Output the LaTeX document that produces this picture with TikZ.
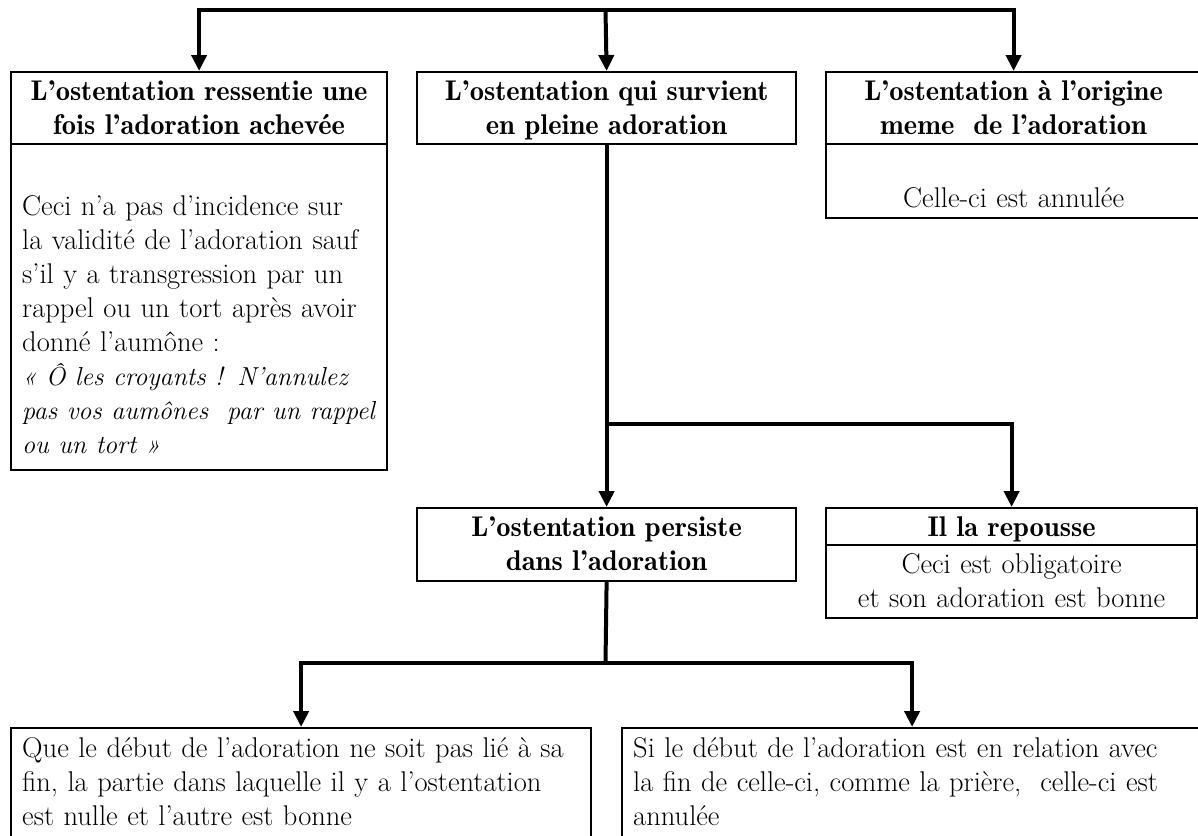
\documentclass[tikz,border=0pt]{standalone}
\usetikzlibrary{arrows.meta}
\begin{document}
\begin{tikzpicture}[x=1pt,y=-1pt,
  box/.style={draw, line width=2.2pt, rectangle, inner sep=0pt, anchor=north west},
  conn/.style={line width=4pt},
  arr/.style={line width=4pt, -{Triangle[length=16pt,width=15pt]}},
  txt/.style={inner sep=0pt, font=\fontsize{28.5}{34}\selectfont},
  btxt/.style={inner sep=0pt, font=\fontsize{28.5}{34}\selectfont\fontseries{b}\selectfont},
  itx/.style={},
]
\newcommand{\quoteline}[1]{{\fontsize{26}{34}\selectfont\itshape #1}}
\useasboundingbox (0,0) rectangle (1198,835);
\clip (0,0) rectangle (1198,835);

% boxes, first row
\node[box, minimum width=376pt, minimum height=72pt]  (h1) at (10,71) {};
\node[box, minimum width=376pt, minimum height=326pt] (b1) at (10,143) {};
\node[box, minimum width=379pt, minimum height=72pt]  (h2) at (416,71) {};
\node[box, minimum width=375pt, minimum height=72pt]  (h3) at (825,71) {};
\node[box, minimum width=375pt, minimum height=74pt]  (b3) at (825,143) {};
% second row
\node[box, minimum width=379pt, minimum height=73pt]  (h4) at (416,507) {};
\node[box, minimum width=371pt, minimum height=37pt]  (h5) at (825,507) {};
\node[box, minimum width=371pt, minimum height=73pt]  (b5) at (825,544) {};
% third row
\node[box, minimum width=580pt, minimum height=140pt] (b6) at (10,727) {};
\node[box, minimum width=580pt, minimum height=140pt] (b7) at (621,727) {};

% texts
\node[btxt, anchor=base, text width=370pt, align=center] (t1) at (h1.north |- 0,100)
  {L’ostentation ressentie une\\fois l’adoration achevée};
\node[txt, anchor=base west, text width=420pt, align=left] (t1b) at (22,215)
  {Ceci n’a pas d’incidence sur\\la validité de l’adoration sauf\\s’il y a transgression par un\\rappel ou un tort après avoir\\donné l’aumône :\\\quoteline{« Ô les croyants ! N’annulez}\\\quoteline{pas vos aumônes\ \ par un rappel}\\\quoteline{ou un tort »}};
\node[btxt, anchor=base, text width=370pt, align=center] (t2) at (h2.north |- 0,100)
  {L’ostentation qui survient\\en pleine adoration};
\node[btxt, anchor=base, text width=370pt, align=center] (t3) at (h3.north |- 0,100)
  {L’ostentation à l’origine\\meme\ \ de l’adoration};
\node[txt, anchor=base, text width=370pt, align=center] (t3b) at (b3.north |- 0,207)
  {Celle-ci est annulée};
\node[btxt, anchor=base, text width=370pt, align=center] (t4) at (h4.north |- 0,536)
  {L’ostentation persiste\\dans l’adoration};
\node[btxt, anchor=base, text width=365pt, align=center] (t5) at (h5.north |- 0,536)
  {Il la repousse};
\node[txt, anchor=base, text width=365pt, align=center] (t5b) at (b5.north |- 0,573)
  {Ceci est obligatoire\\et son adoration est bonne};
\node[txt, anchor=base west, text width=570pt, align=left] (t6) at (22,757)
  {Que le début de l’adoration ne soit pas lié à sa\\fin, la partie dans laquelle il y a l’ostentation\\est nulle et l’autre est bonne};
\node[txt, anchor=base west, text width=570pt, align=left] (t7) at (633,757)
  {Si le début de l’adoration est en relation avec\\la fin de celle-ci, comme la prière,\ \ celle-ci est\\annulée};

% connectors
\coordinate (top) at (605.5,10);
\coordinate (br1) at (605.5,424);
\coordinate (br2) at (605.5,663);
\draw[arr] (top) -| (h1.north);
\draw[arr] (top) -| (h3.north);
\draw[arr] (top) -- (h2.north);
\draw[arr] (h2.south) -- (h4.north);
\draw[arr] (br1) -| (h5.north);
\draw[conn] (h4.south) -- (br2);
\draw[arr] (br2) -| (b6.north);
\draw[arr] (br2) -| (b7.north);
\end{tikzpicture}
\end{document}
